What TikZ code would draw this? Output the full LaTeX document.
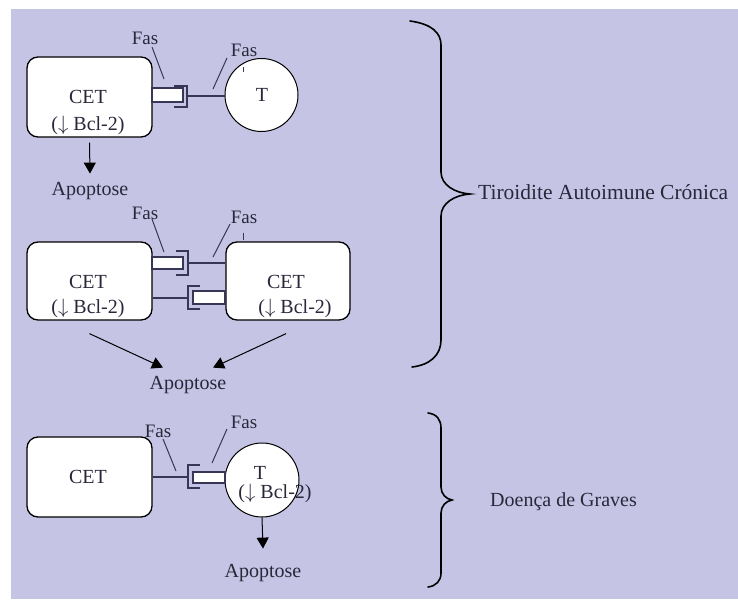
\documentclass[tikz,border=0pt]{standalone}
\usepackage{fontspec}
\setmainfont{Liberation Serif}
\usetikzlibrary{arrows.meta}
\definecolor{bg}{RGB}{198,196,228}
\definecolor{ink}{RGB}{40,40,58}
\definecolor{ln}{RGB}{55,55,85}
\begin{document}
\begin{tikzpicture}[x=1pt,y=-1pt,
  txt/.style={font=\fontsize{20}{24}\selectfont, text=ink, inner sep=0pt, anchor=base},
  fastxt/.style={font=\fontsize{19}{22}\selectfont, text=ink, inner sep=0pt, anchor=base},
  cell/.style={draw=black, line width=1.3pt, fill=white, rounded corners=11pt, minimum width=125pt, minimum height=80pt, inner sep=0pt},
  tcell/.style={draw=black, line width=1pt, fill=white, circle, minimum size=73pt, inner sep=0pt},
  rec/.style={draw=ln, line width=1.2pt, fill=white, inner sep=0pt},
  brk/.style={draw=ln, line width=1.5pt},
  wire/.style={draw=ln, line width=1.2pt},
  fasline/.style={draw=ln, line width=1pt},
  arr/.style={draw=black, line width=1pt, -{Triangle[width=12pt,length=11pt]}},
  brace/.style={draw=black, line width=1.6pt, line cap=round},
]
\useasboundingbox (0,0) rectangle (738,599);
\fill[bg] (11,9) rectangle (738,599);

% ---------- Section 1 ----------
\node[cell] (cet1) at (89.5,97) {};
\node[tcell] (t1) at (261.5,95) {};
\node[rec, minimum width=31pt, minimum height=14pt] (r1) at (167.5,95) {};
\coordinate (b1) at (187,96);
\draw[brk] (174,86) -- (187,86) -- (187,107) -- (174,107);
\draw[wire] (b1) -- (b1 -| t1.west);
\node[txt] (c1) at (88,103) {CET};
\node[txt] (bc1) at (88,131) {($\downarrow$ Bcl-2)};
\node[txt] (tt1) at (262,102) {T};
\node[fastxt] (fa1) at (145,45) {Fas};
\node[fastxt] (fb1) at (244,57) {Fas};
\draw[fasline] (152,47) -- (164,79);
\draw[fasline] (227,58) -- (213,89);
\draw[fasline] (243,67) -- (243,72);
\node[txt] (apo1) at (90,195) {Apoptose};
\draw[arr] ([yshift=-5pt]cet1.south) -- ([yshift=8pt]apo1.north);

% ---------- Section 2 ----------
\node[cell, minimum height=78pt] (cet2a) at (89.5,281) {};
\node[cell, minimum height=78pt, minimum width=124pt] (cet2b) at (288,281) {};
\node[rec, minimum width=31pt, minimum height=12pt] (r2a) at (167.5,263) {};
\node[rec, minimum width=32pt, minimum height=13pt] (r2b) at (209,297.5) {};
\coordinate (b2u) at (188,263);
\coordinate (b2l) at (188,298);
\draw[brk] (176,251) -- (188,251) -- (188,275) -- (176,275);
\draw[brk] (200,286) -- (188,286) -- (188,309) -- (200,309);
\draw[wire] (b2u) -- (b2u -| cet2b.west);
\draw[wire] (b2l -| cet2a.east) -- (b2l);
\node[txt] (c2a) at (88,288) {CET};
\node[txt] (bc2a) at (88,313) {($\downarrow$ Bcl-2)};
\node[txt] (c2b) at (286,288) {CET};
\node[txt] (bc2b) at (295,313) {($\downarrow$ Bcl-2)};
\node[fastxt] (fa2) at (145,219) {Fas};
\node[fastxt] (fb2) at (244,223) {Fas};
\draw[fasline] (152,219) -- (164,252);
\draw[fasline] (230,224) -- (213,257);
\draw[fasline] (243,233) -- (243,240);
\node[txt] (apo2) at (188,389) {Apoptose};
\draw[arr] ([yshift=-13pt]cet2a.south) -- ([xshift=-25pt,yshift=8pt]apo2.north);
\draw[arr] ([xshift=-2pt,yshift=-13pt]cet2b.south) -- ([xshift=25pt,yshift=8pt]apo2.north);

% ---------- Section 3 ----------
\node[cell] (cet3) at (89.5,477) {};
\node[tcell, minimum size=74pt] (t3) at (262,480) {};
\node[rec, minimum width=32pt, minimum height=11pt] (r3) at (209,477.5) {};
\coordinate (b3) at (188,477);
\draw[brk] (200,465) -- (188,465) -- (188,488) -- (200,488);
\draw[wire] (b3 -| cet3.east) -- (b3);
\node[txt] (c3) at (88,483) {CET};
\node[txt] (tt3) at (260,479) {T};
\node[txt] (bc3) at (275,498) {($\downarrow$ Bcl-2)};
\node[fastxt] (fa3) at (158,437) {Fas};
\node[fastxt] (fb3) at (244,428) {Fas};
\draw[fasline] (163,439) -- (176,471);
\draw[fasline] (227,429) -- (212,463);
\node[txt] (apo3) at (263,577) {Apoptose};
\draw[arr] (t3.south) -- ([yshift=15pt]apo3.north);

% ---------- Braces ----------
\draw[brace] (410,21) .. controls (432,24) and (441,33) .. (441,45) -- (441,172)
  .. controls (441,185) and (455,193) .. (470,194)
  .. controls (455,195) and (441,203) .. (441,216) -- (441,340)
  .. controls (441,355) and (430,365) .. (412,367);
\node[txt, anchor=base west, font=\fontsize{21.5}{25}\selectfont] (lab1) at (478,199) {Tiroidite Autoimune Crónica};

\draw[brace] (428,413) .. controls (437,414) and (441,420) .. (441,428) -- (441,487)
  .. controls (441,494) and (446,499) .. (452,500)
  .. controls (446,501) and (441,506) .. (441,513) -- (441,573)
  .. controls (441,581) and (436,586) .. (428,587);
\node[txt, anchor=base west] (lab2) at (490,506) {Doença de Graves};
\end{tikzpicture}
\end{document}
